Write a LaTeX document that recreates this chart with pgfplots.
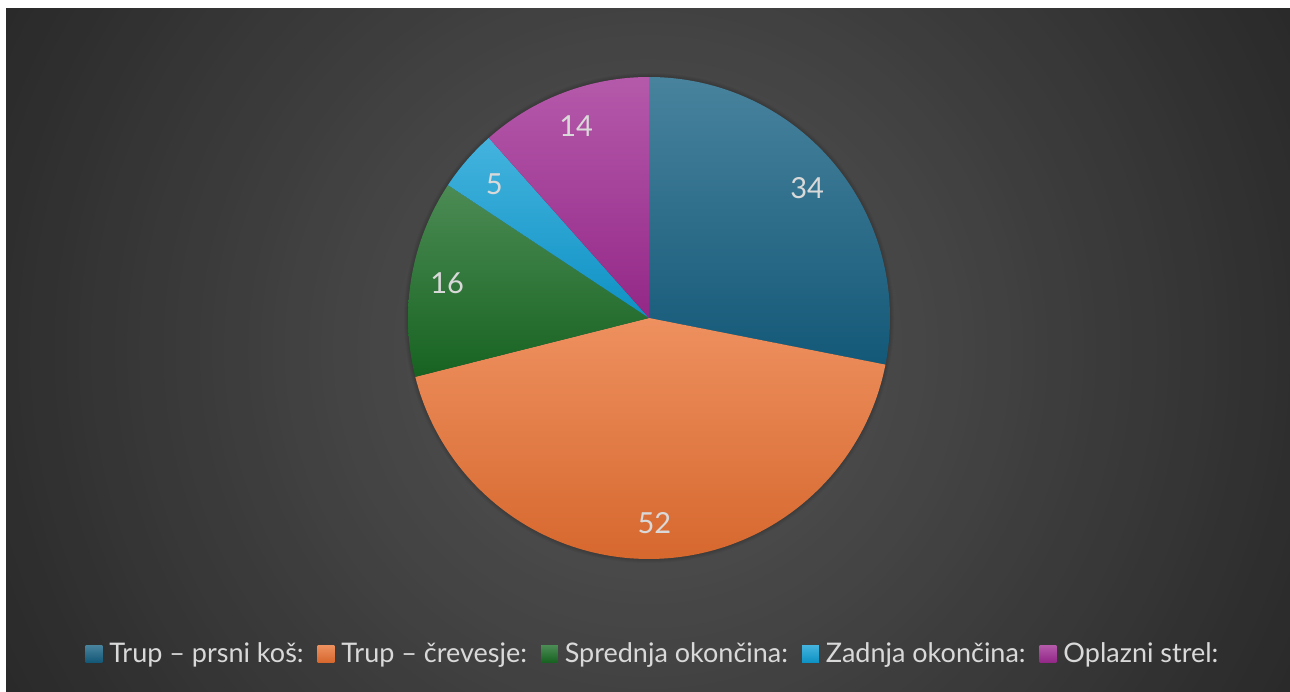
\documentclass[border=0pt]{standalone}
\usepackage{pgfplots}
\pgfplotsset{compat=1.18}
\usepackage{pgfplotstable}
\usepackage{fontspec}
\setmainfont{Lato}

\definecolor{cA}{HTML}{156082}
\definecolor{cB}{HTML}{E97132}
\definecolor{cC}{HTML}{196B24}
\definecolor{cD}{HTML}{0F9ED5}
\definecolor{cE}{HTML}{A02B93}
\definecolor{lbl}{HTML}{D9D9D9}

\pgfplotstableread[col sep=comma]{
part,value
Trup – prsni koš:,34
Trup – črevesje:,52
Sprednja okončina:,16
Zadnja okončina:,5
Oplazni strel:,14
}\piedata

\pgfplotstablegetelem{0}{value}\of\piedata \edef\vA{\pgfplotsretval}
\pgfplotstablegetelem{1}{value}\of\piedata \edef\vB{\pgfplotsretval}
\pgfplotstablegetelem{2}{value}\of\piedata \edef\vC{\pgfplotsretval}
\pgfplotstablegetelem{3}{value}\of\piedata \edef\vD{\pgfplotsretval}
\pgfplotstablegetelem{4}{value}\of\piedata \edef\vE{\pgfplotsretval}

% pie centre and radius, in pixel units of the axis
\def\cx{649}
\def\cy{373}
\def\R{241}

\newcommand\slice[4]{% from angle, to angle, colour, value
  \addplot[draw=none, top color=#3!78!white, bottom color=#3!92!black,
    domain=#2:#1, samples=120]
    ({\cx+\R*cos(x)},{\cy+\R*sin(x)}) -- (axis cs:\cx,\cy) -- cycle;
  \node[text=lbl, font=\fontsize{14.5}{16}\selectfont]
    at (axis cs:{\cx+0.85*\R*cos((#1+#2)/2)},{\cy+0.85*\R*sin((#1+#2)/2)}) {#4};
}

\begin{document}
\begin{tikzpicture}
  \pgfmathsetmacro\tot{\vA+\vB+\vC+\vD+\vE}
  \pgfmathsetmacro\unit{360/\tot}
  \pgfmathsetmacro\aA{90}
  \pgfmathsetmacro\aB{\aA-\unit*\vA}
  \pgfmathsetmacro\aC{\aB-\unit*\vB}
  \pgfmathsetmacro\aD{\aC-\unit*\vC}
  \pgfmathsetmacro\aE{\aD-\unit*\vD}
  \pgfmathsetmacro\aF{\aE-\unit*\vE}
  % page and radial background (concentric bands, darker outwards)
  \fill[white] (0,0) rectangle (645pt,345.5pt);
  \begin{scope}
    \clip (3pt,0) rectangle (645pt,341pt);
    \foreach \i in {0,...,59} {
      \pgfmathsetmacro\t{1-\i/60}
      \pgfmathsetmacro\g{(87-45*\t)/255}
      \definecolor{bgc}{gray}{\g}
      \fill[bgc] (324pt,170.5pt) circle[radius={\t*363.5pt}];
    }
  \end{scope}
  % soft shadow round the pie
  \foreach \k in {1,...,5}
    \fill[black, opacity=0.035] (324.5pt,186.5pt) circle[radius={(240+\k)*0.5pt}];

\begin{axis}[
    hide axis,
    scale only axis,
    width=645pt, height=345.5pt,
    xmin=0, xmax=1290, ymin=0, ymax=691,
    clip=false,
    legend columns=5,
    legend style={at={(0.507,0.054)}, anchor=center, draw=none, fill=none,
      text=lbl, font=\fontsize{13.5}{15}\selectfont,
      /tikz/every odd column/.append style={column sep=1.5pt},
      /tikz/every even column/.append style={column sep=5pt}},
    legend image code/.code={\shade[#1] (0pt,-4.2pt) rectangle (8.4pt,4.2pt);},
]
  \slice{\aA}{\aB}{cA}{\vA}
  \slice{\aB}{\aC}{cB}{\vB}
  \slice{\aC}{\aD}{cC}{\vC}
  \slice{\aD}{\aE}{cD}{\vD}
  \slice{\aE}{\aF}{cE}{\vE}

  \addlegendimage{draw=none, top color=cA!78!white, bottom color=cA}
  \addlegendimage{draw=none, top color=cB!78!white, bottom color=cB}
  \addlegendimage{draw=none, top color=cC!78!white, bottom color=cC}
  \addlegendimage{draw=none, top color=cD!78!white, bottom color=cD}
  \addlegendimage{draw=none, top color=cE!78!white, bottom color=cE}
  \legend{Trup – prsni koš:, Trup – črevesje:, Sprednja okončina:, Zadnja okončina:, Oplazni strel:}
\end{axis}
  \pgfresetboundingbox
  \path[use as bounding box] (0,0) rectangle (645pt,345.5pt);
\end{tikzpicture}
\end{document}
